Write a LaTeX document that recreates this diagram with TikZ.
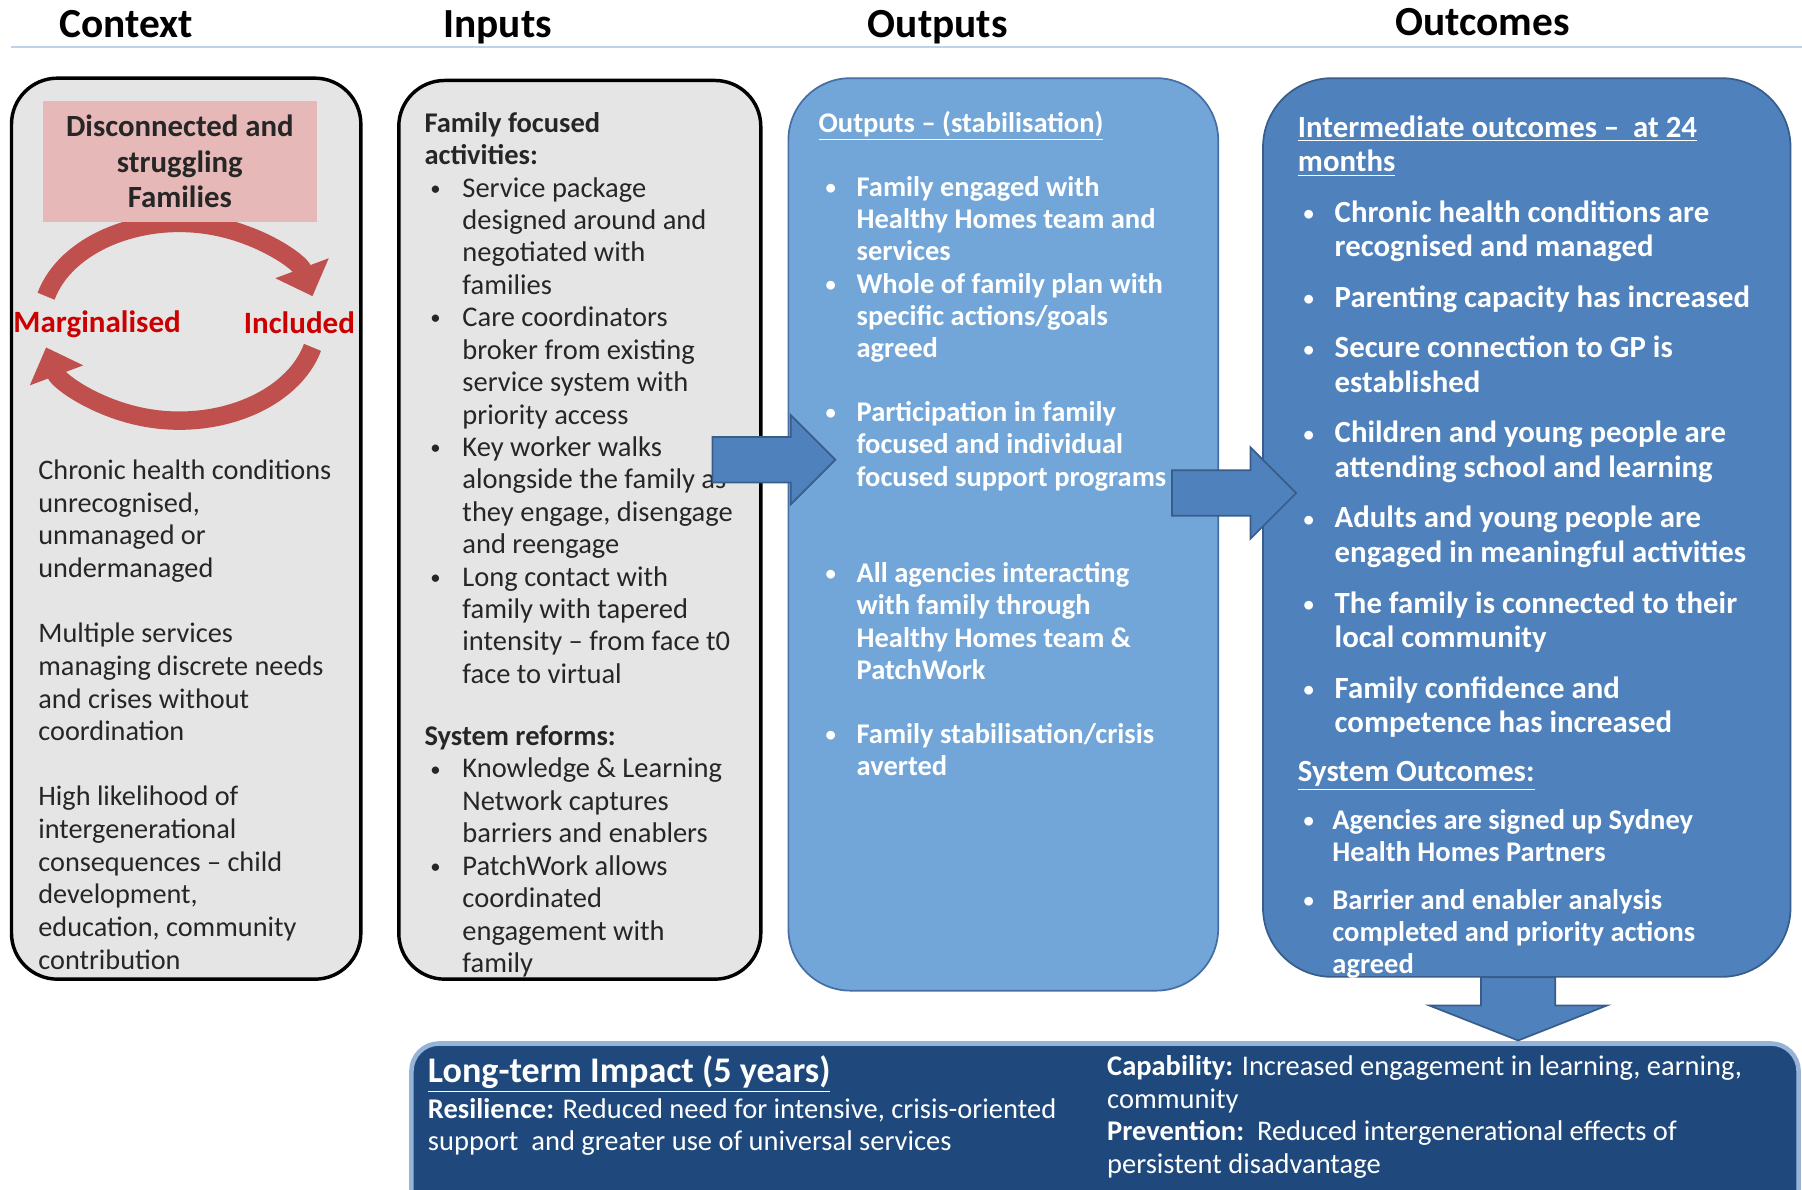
\documentclass[tikz,border=0pt]{standalone}
\usepackage{fontspec}
\setmainfont{Carlito}
\usepackage{xcolor}
\definecolor{boxgrey}{RGB}{229, 229, 229}
\definecolor{familypink}{RGB}{230, 184, 183}
\definecolor{cyclered}{RGB}{192, 80, 77}
\definecolor{labelred}{RGB}{204, 0, 0}
\definecolor{textgrey}{RGB}{38, 38, 38}
\definecolor{outputblue}{RGB}{115, 166, 216}
\definecolor{outputline}{RGB}{70, 110, 165}
\definecolor{outcomeblue}{RGB}{79, 129, 189}
\definecolor{outcomeline}{RGB}{56, 93, 138}
\definecolor{impactnavy}{RGB}{31, 73, 125}
\definecolor{impactglow}{RGB}{150, 180, 215}
\definecolor{ruleblue}{RGB}{190, 210, 232}
\usepackage{tikz}
\usetikzlibrary{shapes.arrows, arrows.meta}
\newcommand{\bul}{\raisebox{0.8pt}{\fontsize{9}{9}\selectfont\textbullet}}

\begin{document}
\begin{tikzpicture}[
    x=0.5pt, y=-0.5pt,
    heading/.style={anchor=base, inner sep=0pt, font=\fontsize{18}{21}\selectfont\bfseries},
    greybox/.style={draw=black, line width=1.5pt, fill=boxgrey, rounded corners=20pt, inner sep=0pt},
    outputbox/.style={draw=outputline, line width=0.75pt, fill=outputblue, rounded corners=27pt, inner sep=0pt},
    outcomebox/.style={draw=outcomeline, line width=0.75pt, fill=outcomeblue, rounded corners=30pt, inner sep=0pt},
    impactbox/.style={draw=impactglow, line width=2pt, fill=impactnavy, rounded corners=12pt, inner sep=0pt},
    bodytext/.style={anchor=north west, inner sep=0pt, text=textgrey, font=\fontsize{12.4}{14.1}\selectfont},
    whitetext/.style={anchor=north west, inner sep=0pt, text=white, font=\fontsize{12.4}{14}\selectfont\bfseries},
    blockarrow/.style={single arrow, fill=outcomeblue, draw=outcomeline, line width=0.75pt, inner xsep=0pt, single arrow tip angle=90},
    cyclearrow/.style={cyclered, line width=8pt, -{Triangle[width=24pt, length=13pt]}},
    cyclelabel/.style={anchor=base, inner sep=0pt, text=labelred, font=\fontsize{13.5}{15}\selectfont\bfseries}
  ]
    \useasboundingbox (0,0) rectangle (1568,1035);

    % column headings
    \node[heading] (hcontext) at (110,33) {Context};
    \node[heading] (hinputs) at (433,33) {Inputs};
    \node[heading] (houtputs) at (816,33) {Outputs};
    \node[heading] (houtcomes) at (1290,31) {Outcomes};
    \draw[ruleblue, line width=1pt] (10,41) -- (1568,41);

    % context
    \node[greybox, minimum width=152pt, minimum height=392pt] (ctx) at (162,460) {};
    \coordinate (cyc) at (156,280);
    \draw[cyclearrow] ([shift={(195:120 and 86)}]cyc) arc[start angle=195, end angle=345, x radius=120, y radius=86];
    \draw[cyclearrow] ([shift={(15:120 and 86)}]cyc) arc[start angle=15, end angle=165, x radius=120, y radius=86];
    \node[fill=familypink, minimum width=119.5pt, minimum height=52.5pt, inner sep=0pt, align=center, text=textgrey, font=\fontsize{13.4}{15.5}\selectfont\bfseries] (families) at (156.5,140.5) {Disconnected and\\struggling\\Families};
    \node[cyclelabel] (marg) at (84.5,289) {Marginalised};
    \node[cyclelabel] (incl) at (260.5,290) {Included};
    \node[bodytext, font=\fontsize{12.3}{14.2}\selectfont] (ctxtext) at (33,397) {\begin{tabular}{@{}l@{}}
      Chronic health conditions\\ unrecognised,\\ unmanaged or\\ undermanaged\\[14.2pt]
      Multiple services\\ managing discrete needs\\ and crises without\\ coordination\\[14.2pt]
      High likelihood of\\ intergenerational\\ consequences -- child\\ development,\\ education, community\\ contribution
    \end{tabular}};

    % inputs
    \node[greybox, minimum width=157.5pt, minimum height=391pt] (inp) at (504.5,461) {};
    \node[bodytext] (inptext) at (369,95) {\begin{tabular}{@{\hspace{2.5pt}}p{14pt}@{}l@{}}
      \multicolumn{2}{@{}l@{}}{\textbf{Family focused}}\\
      \multicolumn{2}{@{}l@{}}{\textbf{activities:}}\\
      \bul & Service package\\
      & designed around and\\
      & negotiated with\\
      & families\\
      \bul & Care coordinators\\
      & broker from existing\\
      & service system with\\
      & priority access\\
      \bul & Key worker walks\\
      & alongside the family as\\
      & they engage, disengage\\
      & and reengage\\
      \bul & Long contact with\\
      & family with tapered\\
      & intensity -- from face t0\\
      & face to virtual\\[13pt]
      \multicolumn{2}{@{}l@{}}{\textbf{System reforms:}}\\
      \bul & Knowledge \& Learning\\
      & Network captures\\
      & barriers and enablers\\
      \bul & PatchWork allows\\
      & coordinated\\
      & engagement with\\
      & family
    \end{tabular}};

    % outputs
    \node[outputbox, minimum width=187pt, minimum height=397pt] (outp) at (873,465) {};
    \node[whitetext] (outptext) at (712,95) {\begin{tabular}{@{\hspace{3pt}}p{13.5pt}@{}l@{}}
      \multicolumn{2}{@{}l@{}}{\underline{Outputs -- (stabilisation)}}\\[14pt]
      \bul & Family engaged with\\
      & Healthy Homes team and\\
      & services\\
      \bul & Whole of family plan with\\
      & specific actions/goals\\
      & agreed\\[14pt]
      \bul & Participation in family\\
      & focused and individual\\
      & focused support programs\\[28pt]
      \bul & All agencies interacting\\
      & with family through\\
      & Healthy Homes team \&\\
      & PatchWork\\[14pt]
      \bul & Family stabilisation/crisis\\
      & averted
    \end{tabular}};

    % outcomes
    \node[outcomebox, minimum width=229.5pt, minimum height=391pt] (outc) at (1328.5,459) {};
    \node[whitetext, font=\fontsize{13.4}{15}\selectfont\bfseries] (outctext) at (1129,98) {\begin{tabular}{@{\hspace{2.5pt}}p{13.5pt}@{}l@{}}
      \multicolumn{2}{@{}l@{}}{\underline{Intermediate outcomes --\ \ at 24}}\\
      \multicolumn{2}{@{}l@{}}{\underline{months}}\\[7pt]
      \bul & Chronic health conditions are\\
      & recognised and managed\\[7pt]
      \bul & Parenting capacity has increased\\[7pt]
      \bul & Secure connection to GP is\\
      & established\\[7pt]
      \bul & Children and young people are\\
      & attending school and learning\\[7pt]
      \bul & Adults and young people are\\
      & engaged in meaningful activities\\[7pt]
      \bul & The family is connected to their\\
      & local community\\[7pt]
      \bul & Family confidence and\\
      & competence has increased
    \end{tabular}};
    \node[whitetext, font=\fontsize{12.4}{14}\selectfont\bfseries] (systext) at (1129,660) {\begin{tabular}{@{\hspace{2.5pt}}p{12.5pt}@{}l@{}}
      \multicolumn{2}{@{}l@{}}{\fontsize{13.4}{15}\selectfont\underline{System Outcomes:}}\\[7pt]
      \bul & Agencies are signed up Sydney\\
      & Health Homes Partners\\[6.5pt]
      \bul & Barrier and enabler analysis\\
      & completed and priority actions\\
      & agreed
    \end{tabular}};

    % long-term impact
    \node[impactbox, minimum width=603.5pt, minimum height=82pt] (impact) at (961.5,990) {};
    \node[anchor=base west, inner sep=0pt, text=white, font=\fontsize{15.7}{18}\selectfont\bfseries] (impacttitle) at (372,942) {\underline{Long-term Impact (5 years)}};
    \node[bodytext, text=white] (resil) at (372,953) {\begin{tabular}{@{}l@{}}
      \textbf{Resilience:} Reduced need for intensive, crisis-oriented\\
      support\ \ and greater use of universal services
    \end{tabular}};
    \node[bodytext, text=white] (capab) at (963,916) {\begin{tabular}{@{}l@{}}
      \textbf{Capability:} Increased engagement in learning, earning,\\
      community\\
      \textbf{Prevention:}\ \ Reduced intergenerational effects of\\
      persistent disadvantage
    \end{tabular}};

    % arrows between columns
    \node[blockarrow, minimum height=53.5pt, inner ysep=9.5pt, single arrow head extend=9.5pt] (arrin) at (663.5,400) {};
    \node[blockarrow, minimum height=54pt, inner ysep=9.5pt, single arrow head extend=10pt] (arrout) at (1064,429) {};
    \node[blockarrow, rotate=-90, minimum height=27.5pt, inner ysep=15.75pt, single arrow head extend=22.5pt, single arrow tip angle=137] (arrdown) at (1321,871.5) {};
  \end{tikzpicture}
\end{document}
